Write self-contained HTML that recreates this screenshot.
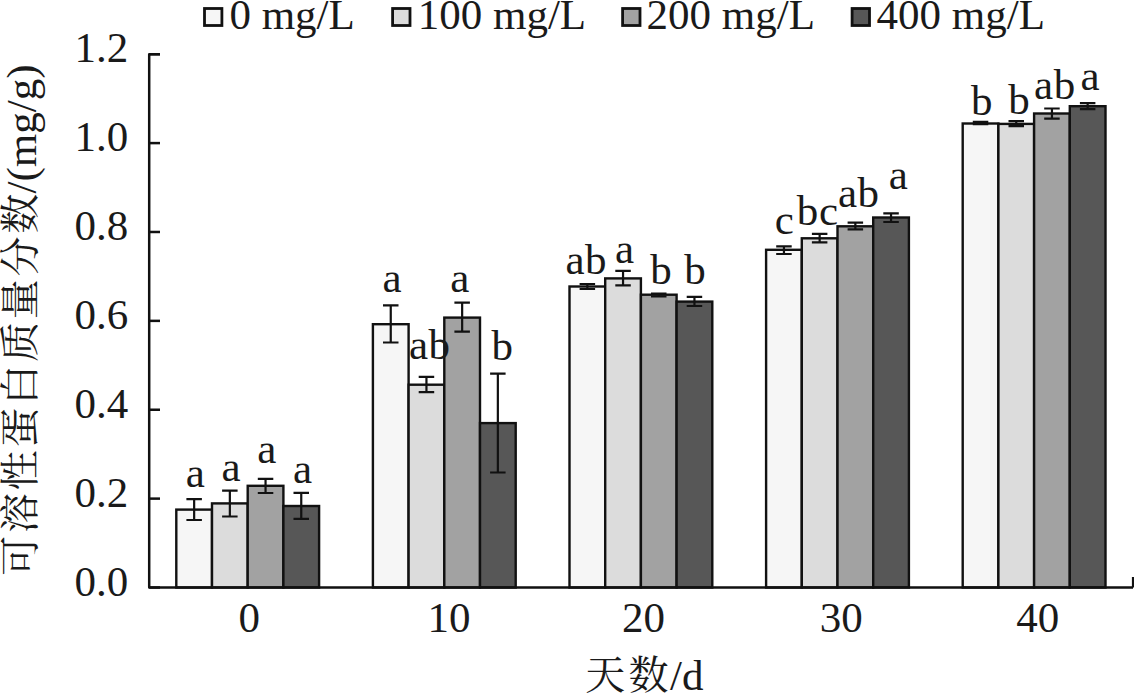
<!DOCTYPE html>
<html><head><meta charset="utf-8"><title>chart</title>
<style>
html,body{margin:0;padding:0;background:#fff;width:1134px;height:694px;overflow:hidden}
svg{display:block}
.t{font-family:"Liberation Serif","Noto Serif CJK SC",serif;fill:#1a1a1a;stroke:#1a1a1a;stroke-width:0.00px}
.cjk{font-family:"Noto Serif CJK SC",serif;font-weight:400;stroke-width:0.00px}
</style></head><body>
<svg width="1134" height="694" viewBox="0 0 1134 694">
<rect x="0" y="0" width="1134" height="694" fill="#fff"/>

<rect x="176.30" y="509.60" width="35.70" height="77.90" fill="#f6f6f6" stroke="#111111" stroke-width="2.4"/>
<rect x="212.00" y="503.40" width="35.70" height="84.10" fill="#dcdcdc" stroke="#111111" stroke-width="2.4"/>
<rect x="247.70" y="485.80" width="35.70" height="101.70" fill="#a2a2a2" stroke="#111111" stroke-width="2.4"/>
<rect x="283.40" y="506.00" width="35.70" height="81.50" fill="#575757" stroke="#111111" stroke-width="2.4"/>
<rect x="372.90" y="324.20" width="35.70" height="263.30" fill="#f6f6f6" stroke="#111111" stroke-width="2.4"/>
<rect x="408.60" y="384.70" width="35.70" height="202.80" fill="#dcdcdc" stroke="#111111" stroke-width="2.4"/>
<rect x="444.30" y="317.60" width="35.70" height="269.90" fill="#a2a2a2" stroke="#111111" stroke-width="2.4"/>
<rect x="480.00" y="423.10" width="35.70" height="164.40" fill="#575757" stroke="#111111" stroke-width="2.4"/>
<rect x="569.50" y="286.50" width="35.70" height="301.00" fill="#f6f6f6" stroke="#111111" stroke-width="2.4"/>
<rect x="605.20" y="278.40" width="35.70" height="309.10" fill="#dcdcdc" stroke="#111111" stroke-width="2.4"/>
<rect x="640.90" y="294.70" width="35.70" height="292.80" fill="#a2a2a2" stroke="#111111" stroke-width="2.4"/>
<rect x="676.60" y="301.60" width="35.70" height="285.90" fill="#575757" stroke="#111111" stroke-width="2.4"/>
<rect x="766.10" y="249.80" width="35.70" height="337.70" fill="#f6f6f6" stroke="#111111" stroke-width="2.4"/>
<rect x="801.80" y="238.30" width="35.70" height="349.20" fill="#dcdcdc" stroke="#111111" stroke-width="2.4"/>
<rect x="837.50" y="226.30" width="35.70" height="361.20" fill="#a2a2a2" stroke="#111111" stroke-width="2.4"/>
<rect x="873.20" y="217.50" width="35.70" height="370.00" fill="#575757" stroke="#111111" stroke-width="2.4"/>
<rect x="962.70" y="123.50" width="35.70" height="464.00" fill="#f6f6f6" stroke="#111111" stroke-width="2.4"/>
<rect x="998.40" y="123.90" width="35.70" height="463.60" fill="#dcdcdc" stroke="#111111" stroke-width="2.4"/>
<rect x="1034.10" y="113.50" width="35.70" height="474.00" fill="#a2a2a2" stroke="#111111" stroke-width="2.4"/>
<rect x="1069.80" y="106.20" width="35.70" height="481.30" fill="#575757" stroke="#111111" stroke-width="2.4"/>
<path d="M194.15 499.10V520.00M186.40 499.10H201.90M186.40 520.00H201.90" stroke="#111111" stroke-width="2.2" fill="none"/>
<path d="M229.85 490.60V516.50M222.10 490.60H237.60M222.10 516.50H237.60" stroke="#111111" stroke-width="2.2" fill="none"/>
<path d="M265.55 478.80V493.00M257.80 478.80H273.30M257.80 493.00H273.30" stroke="#111111" stroke-width="2.2" fill="none"/>
<path d="M301.25 492.90V518.80M293.50 492.90H309.00M293.50 518.80H309.00" stroke="#111111" stroke-width="2.2" fill="none"/>
<path d="M390.75 305.30V342.50M383.00 305.30H398.50M383.00 342.50H398.50" stroke="#111111" stroke-width="2.2" fill="none"/>
<path d="M426.45 376.90V392.10M418.70 376.90H434.20M418.70 392.10H434.20" stroke="#111111" stroke-width="2.2" fill="none"/>
<path d="M462.15 302.60V331.70M454.40 302.60H469.90M454.40 331.70H469.90" stroke="#111111" stroke-width="2.2" fill="none"/>
<path d="M497.85 373.70V472.50M490.10 373.70H505.60M490.10 472.50H505.60" stroke="#111111" stroke-width="2.2" fill="none"/>
<path d="M587.35 284.00V289.00M579.60 284.00H595.10M579.60 289.00H595.10" stroke="#111111" stroke-width="2.2" fill="none"/>
<path d="M623.05 270.90V285.30M615.30 270.90H630.80M615.30 285.30H630.80" stroke="#111111" stroke-width="2.2" fill="none"/>
<path d="M658.75 293.50V296.50M651.00 293.50H666.50M651.00 296.50H666.50" stroke="#111111" stroke-width="2.2" fill="none"/>
<path d="M694.45 296.80V306.00M686.70 296.80H702.20M686.70 306.00H702.20" stroke="#111111" stroke-width="2.2" fill="none"/>
<path d="M783.95 246.40V254.00M776.20 246.40H791.70M776.20 254.00H791.70" stroke="#111111" stroke-width="2.2" fill="none"/>
<path d="M819.65 233.80V242.40M811.90 233.80H827.40M811.90 242.40H827.40" stroke="#111111" stroke-width="2.2" fill="none"/>
<path d="M855.35 222.60V229.30M847.60 222.60H863.10M847.60 229.30H863.10" stroke="#111111" stroke-width="2.2" fill="none"/>
<path d="M891.05 213.40V222.00M883.30 213.40H898.80M883.30 222.00H898.80" stroke="#111111" stroke-width="2.2" fill="none"/>
<path d="M980.55 121.80V124.20M972.80 121.80H988.30M972.80 124.20H988.30" stroke="#111111" stroke-width="2.2" fill="none"/>
<path d="M1016.25 121.20V126.10M1008.50 121.20H1024.00M1008.50 126.10H1024.00" stroke="#111111" stroke-width="2.2" fill="none"/>
<path d="M1051.95 108.50V118.70M1044.20 108.50H1059.70M1044.20 118.70H1059.70" stroke="#111111" stroke-width="2.2" fill="none"/>
<path d="M1087.65 103.20V109.20M1079.90 103.20H1095.40M1079.90 109.20H1095.40" stroke="#111111" stroke-width="2.2" fill="none"/>
<path d="M160 54.22H149.20V587.50H1133" stroke="#111111" stroke-width="2.5" fill="none" stroke-linejoin="round"/>
<path d="M1133 587.50V577" stroke="#111111" stroke-width="2.2" fill="none"/>
<path d="M149.20 587.50H160" stroke="#111111" stroke-width="2.5" fill="none"/>
<path d="M149.20 498.62H160" stroke="#111111" stroke-width="2.5" fill="none"/>
<path d="M149.20 409.74H160" stroke="#111111" stroke-width="2.5" fill="none"/>
<path d="M149.20 320.86H160" stroke="#111111" stroke-width="2.5" fill="none"/>
<path d="M149.20 231.98H160" stroke="#111111" stroke-width="2.5" fill="none"/>
<path d="M149.20 143.10H160" stroke="#111111" stroke-width="2.5" fill="none"/>
<path d="M149.20 54.22H160" stroke="#111111" stroke-width="2.5" fill="none"/>
<text class="t" x="128.3" y="595.50" font-size="43" text-anchor="end">0.0</text>
<text class="t" x="128.3" y="506.62" font-size="43" text-anchor="end">0.2</text>
<text class="t" x="128.3" y="417.74" font-size="43" text-anchor="end">0.4</text>
<text class="t" x="128.3" y="328.86" font-size="43" text-anchor="end">0.6</text>
<text class="t" x="128.3" y="239.98" font-size="43" text-anchor="end">0.8</text>
<text class="t" x="128.3" y="151.10" font-size="43" text-anchor="end">1.0</text>
<text class="t" x="128.3" y="62.22" font-size="43" text-anchor="end">1.2</text>
<text class="t" x="249.20" y="631.8" font-size="43" text-anchor="middle">0</text>
<text class="t" x="449.10" y="631.8" font-size="43" text-anchor="middle">10</text>
<text class="t" x="643.50" y="631.8" font-size="43" text-anchor="middle">20</text>
<text class="t" x="841.30" y="631.8" font-size="43" text-anchor="middle">30</text>
<text class="t" x="1037.70" y="631.8" font-size="43" text-anchor="middle">40</text>
<text class="t" x="185.79" y="486.50" font-size="43">a</text>
<text class="t" x="221.49" y="480.70" font-size="43">a</text>
<text class="t" x="257.29" y="463.10" font-size="43">a</text>
<text class="t" x="292.99" y="482.60" font-size="43">a</text>
<text class="t" x="382.49" y="291.60" font-size="43">a</text>
<text class="t" x="408.89" y="359.40" font-size="43" letter-spacing="0.6">ab</text>
<text class="t" x="450.19" y="291.60" font-size="43">a</text>
<text class="t" x="491.60" y="360.00" font-size="43">b</text>
<text class="t" x="565.39" y="273.60" font-size="43" letter-spacing="0.6">ab</text>
<text class="t" x="614.99" y="263.20" font-size="43">a</text>
<text class="t" x="650.20" y="283.60" font-size="43">b</text>
<text class="t" x="684.20" y="283.60" font-size="43">b</text>
<text class="t" x="774.66" y="234.00" font-size="43">c</text>
<text class="t" x="796.80" y="225.30" font-size="43" letter-spacing="0.6">bc</text>
<text class="t" x="837.89" y="207.40" font-size="43" letter-spacing="0.6">ab</text>
<text class="t" x="888.69" y="188.70" font-size="43">a</text>
<text class="t" x="971.00" y="115.20" font-size="43">b</text>
<text class="t" x="1008.20" y="113.90" font-size="43">b</text>
<text class="t" x="1033.99" y="99.20" font-size="43" letter-spacing="0.6">ab</text>
<text class="t" x="1080.49" y="89.60" font-size="43">a</text>
<rect x="204.50" y="8.5" width="17.4" height="17" fill="#f6f6f6" stroke="#111111" stroke-width="2.8"/>
<text class="t" x="229.40" y="29.2" font-size="43">0 mg/L</text>
<rect x="392.60" y="8.5" width="17.4" height="17" fill="#dcdcdc" stroke="#111111" stroke-width="2.8"/>
<text class="t" x="417.70" y="29.2" font-size="43">100 mg/L</text>
<rect x="622.60" y="8.5" width="17.4" height="17" fill="#a2a2a2" stroke="#111111" stroke-width="2.8"/>
<text class="t" x="646.50" y="29.2" font-size="43">200 mg/L</text>
<rect x="852.10" y="8.5" width="17.4" height="17" fill="#575757" stroke="#111111" stroke-width="2.8"/>
<text class="t" x="876.60" y="29.2" font-size="43">400 mg/L</text>
<text class="t" transform="rotate(-90)" font-size="43"><tspan class="cjk" x="-575.65" y="34.30" font-size="40.0" letter-spacing="2.73">可溶性蛋白质量分数</tspan><tspan x="-193.5" y="36">/(mg/g)</tspan></text>
<text class="t" font-size="43"><tspan class="cjk" x="585.35" y="688.60" font-size="40.0" letter-spacing="3.20">天数</tspan><tspan x="670.1" y="690.3">/d</tspan></text>
</svg>
</body></html>
